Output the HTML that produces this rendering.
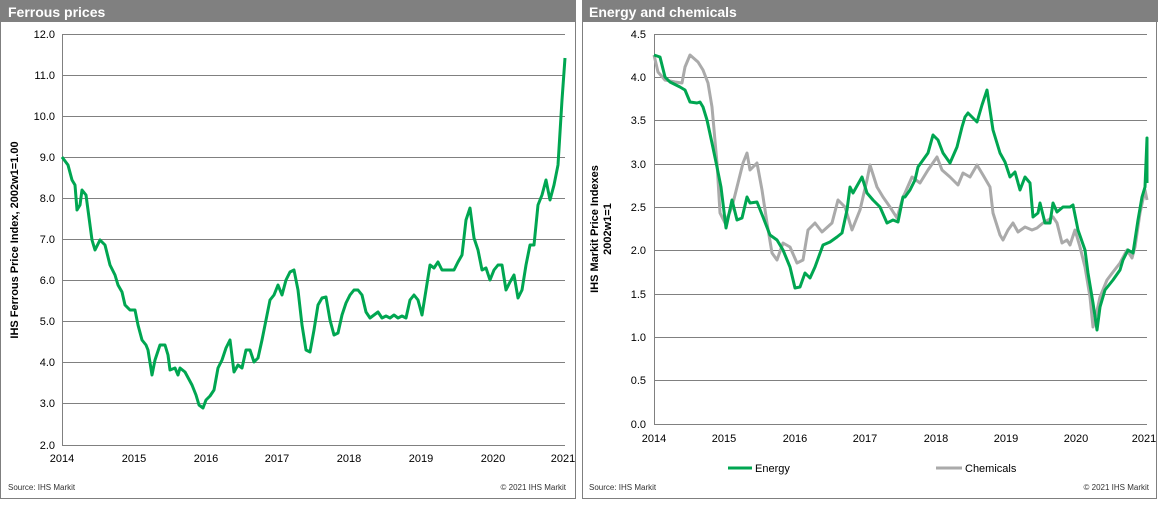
<!DOCTYPE html>
<html><head><meta charset="utf-8"><style>
body{margin:0;background:#fff;width:1158px;height:500px;overflow:hidden;font-family:"Liberation Sans",Arial,sans-serif}
</style></head><body>
<svg width="1158" height="500" xmlns="http://www.w3.org/2000/svg" font-family="Liberation Sans, Arial, sans-serif">
<!-- Left panel -->
<rect x="0.5" y="0.5" width="575" height="498" fill="#fff" stroke="#7f7f7f"/>
<rect x="0" y="0" width="576" height="22" fill="#808080"/>
<text x="8" y="17" font-size="14" font-weight="bold" fill="#fff">Ferrous prices</text>
<g stroke="#808080" stroke-width="1">
<line x1="62" y1="34.5" x2="565" y2="34.5"/><line x1="62" y1="75.5" x2="565" y2="75.5"/><line x1="62" y1="116.5" x2="565" y2="116.5"/><line x1="62" y1="157.5" x2="565" y2="157.5"/><line x1="62" y1="198.5" x2="565" y2="198.5"/><line x1="62" y1="239.5" x2="565" y2="239.5"/><line x1="62" y1="280.5" x2="565" y2="280.5"/><line x1="62" y1="321.5" x2="565" y2="321.5"/><line x1="62" y1="362.5" x2="565" y2="362.5"/><line x1="62" y1="403.5" x2="565" y2="403.5"/><line x1="62" y1="445.5" x2="565" y2="445.5"/>
<line x1="62.5" y1="34" x2="62.5" y2="445"/>
</g>
<g font-size="11" fill="#000" text-anchor="end">
<text x="55" y="38">12.0</text><text x="55" y="79">11.0</text><text x="55" y="120">10.0</text><text x="55" y="161">9.0</text><text x="55" y="202">8.0</text><text x="55" y="243">7.0</text><text x="55" y="284">6.0</text><text x="55" y="325">5.0</text><text x="55" y="366">4.0</text><text x="55" y="407">3.0</text><text x="55" y="449">2.0</text>
</g>
<g font-size="11" fill="#000" text-anchor="middle">
<text x="62" y="462">2014</text><text x="134" y="462">2015</text><text x="206" y="462">2016</text><text x="277" y="462">2017</text><text x="349" y="462">2018</text><text x="421" y="462">2019</text><text x="493" y="462">2020</text><text x="563" y="462">2021</text>
</g>
<text transform="translate(18,240) rotate(-90)" font-size="11" font-weight="bold" text-anchor="middle">IHS Ferrous Price Index, 2002w1=1.00</text>
<text x="8" y="490" font-size="8" fill="#333">Source: IHS Markit</text>
<text x="566" y="490" font-size="8" fill="#333" text-anchor="end">© 2021 IHS Markit</text>
<polyline fill="none" stroke="#00a651" stroke-width="3" stroke-linejoin="round" points="62,157 68,165 72,180 75,185 77,210 80,205 82,190 86,195 90,225 92,240 95,250 100,240 105,245 110,265 115,275 118,285 122,292 125,305 130,310 135,310 138,325 142,340 146,345 148,350 152,375 155,360 160,345 165,345 168,355 170,370 175,368 178,375 180,368 185,372 192,385 196,395 199,405 203,408 206,400 210,396 214,390 218,368 222,360 226,348 230,340 234,372 238,365 242,368 246,350 250,350 254,362 258,358 262,340 266,320 270,300 274,295 278,285 282,295 286,280 290,272 294,270 298,290 302,325 306,350 310,352 314,330 318,305 322,298 326,297 330,320 334,335 338,333 342,315 346,303 350,295 354,290 358,290 362,295 366,312 370,318 374,315 378,312 382,318 386,316 390,318 394,315 398,318 402,316 406,318 410,300 414,295 418,300 422,315 426,290 430,265 434,268 438,262 442,270 446,270 450,270 454,270 458,262 462,255 466,220 470,208 474,238 478,250 482,270 486,268 490,280 494,270 498,265 502,265 506,290 510,282 514,275 518,298 522,290 526,265 530,245 534,245 538,205 542,195 546,180 550,200 554,185 558,165 562,100 565,58"/>

<!-- Right panel -->
<rect x="582.5" y="0.5" width="574" height="498" fill="#fff" stroke="#7f7f7f"/>
<rect x="582" y="0" width="576" height="22" fill="#808080"/>
<text x="589" y="17" font-size="14" font-weight="bold" fill="#fff">Energy  and chemicals</text>
<g stroke="#808080" stroke-width="1">
<line x1="654" y1="34.5" x2="1147" y2="34.5"/><line x1="654" y1="77.5" x2="1147" y2="77.5"/><line x1="654" y1="120.5" x2="1147" y2="120.5"/><line x1="654" y1="164.5" x2="1147" y2="164.5"/><line x1="654" y1="207.5" x2="1147" y2="207.5"/><line x1="654" y1="250.5" x2="1147" y2="250.5"/><line x1="654" y1="294.5" x2="1147" y2="294.5"/><line x1="654" y1="337.5" x2="1147" y2="337.5"/><line x1="654" y1="380.5" x2="1147" y2="380.5"/><line x1="654" y1="424.5" x2="1147" y2="424.5"/>
<line x1="654.5" y1="34" x2="654.5" y2="424"/>
</g>
<g font-size="11" fill="#000" text-anchor="end">
<text x="646" y="38">4.5</text><text x="646" y="81">4.0</text><text x="646" y="124">3.5</text><text x="646" y="168">3.0</text><text x="646" y="211">2.5</text><text x="646" y="254">2.0</text><text x="646" y="298">1.5</text><text x="646" y="341">1.0</text><text x="646" y="384">0.5</text><text x="646" y="428">0.0</text>
</g>
<g font-size="11" fill="#000" text-anchor="middle">
<text x="654" y="442">2014</text><text x="724" y="442">2015</text><text x="795" y="442">2016</text><text x="865" y="442">2017</text><text x="936" y="442">2018</text><text x="1006" y="442">2019</text><text x="1076" y="442">2020</text><text x="1144" y="442">2021</text>
</g>
<text transform="translate(598,229) rotate(-90)" font-size="11" font-weight="bold" text-anchor="middle">IHS Markit Price Indexes</text>
<text transform="translate(611,229) rotate(-90)" font-size="11" font-weight="bold" text-anchor="middle">2002w1=1</text>
<line x1="728" y1="468" x2="752" y2="468" stroke="#00a651" stroke-width="3"/>
<text x="755" y="472" font-size="11">Energy</text>
<line x1="936" y1="468" x2="962" y2="468" stroke="#aaaaaa" stroke-width="3"/>
<text x="965" y="472" font-size="11">Chemicals</text>
<text x="589" y="490" font-size="8" fill="#333">Source: IHS Markit</text>
<text x="1149" y="490" font-size="8" fill="#333" text-anchor="end">© 2021 IHS Markit</text>
<polyline fill="none" stroke="#aaaaaa" stroke-width="3" stroke-linejoin="round" points="654,55 658,72 665,80 675,82 682,83 685,67 690,55 698,62 703,70 708,83 712,107 717,163 720,213 725,223 732,207 738,183 743,163 747,153 750,170 757,163 762,190 767,223 772,253 777,260 783,243 790,247 797,263 803,260 808,230 815,223 822,232 832,223 838,200 845,207 852,230 860,210 867,180 870,165 877,187 883,197 890,207 897,218 903,197 905,193 912,177 920,183 928,170 937,157 942,170 950,177 958,185 963,173 970,177 977,165 983,175 990,187 993,213 1000,235 1003,240 1008,230 1013,223 1018,232 1025,227 1032,230 1037,228 1043,223 1053,217 1057,223 1062,243 1067,240 1070,245 1075,230 1080,247 1085,267 1090,297 1093,327 1095,320 1100,297 1107,280 1113,272 1120,263 1127,250 1132,258 1135,247 1140,213 1145,190 1147,200"/>
<polyline fill="none" stroke="#00a651" stroke-width="3" stroke-linejoin="round" points="654,55 660,57 665,77 670,82 680,87 685,90 690,102 697,103 700,102 703,107 707,120 712,143 717,167 721,187 726,228 732,200 737,220 742,218 747,197 750,203 757,202 763,217 770,235 777,240 783,250 790,267 795,288 800,287 805,273 810,278 815,267 823,245 830,242 837,237 842,233 847,210 850,187 853,193 862,177 867,193 873,200 880,207 887,223 893,220 898,222 903,197 905,197 910,190 915,180 918,167 923,160 928,153 933,135 938,140 943,153 950,163 957,147 962,127 965,117 968,113 977,122 982,105 987,90 990,110 993,130 1000,153 1005,162 1010,177 1015,172 1020,190 1025,177 1030,183 1033,217 1038,213 1040,203 1045,223 1050,223 1053,203 1057,212 1063,207 1070,207 1073,205 1078,230 1085,250 1088,273 1093,303 1097,330 1100,307 1105,290 1113,280 1120,270 1123,260 1128,250 1133,253 1138,220 1142,197 1145,187 1147,138 1147,183"/>
</svg>
</body></html>
